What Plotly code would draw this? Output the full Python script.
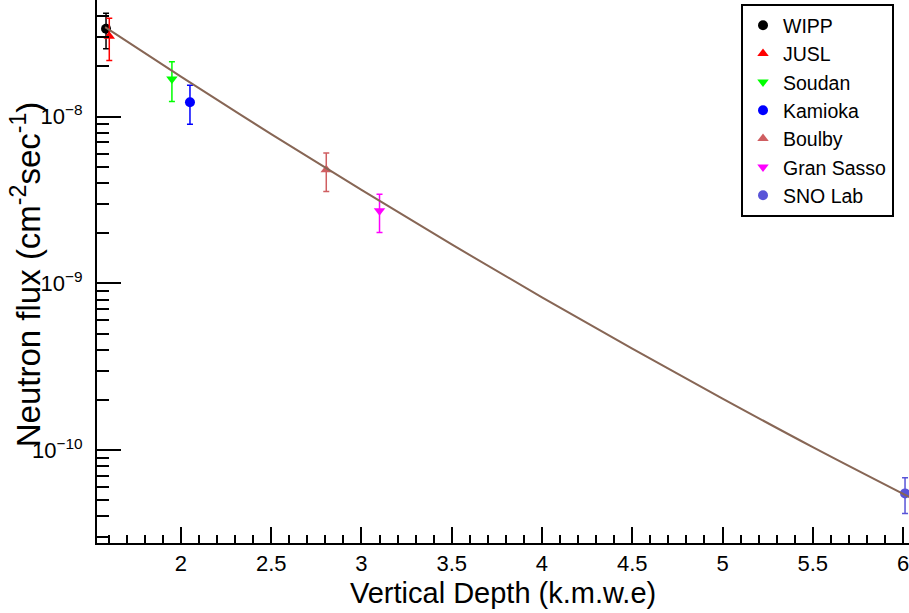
import plotly.graph_objects as go

# ---- data ----
labs = ["WIPP", "JUSL", "Soudan", "Kamioka", "Boulby", "Gran Sasso", "SNO Lab"]
depth = [1.585, 1.603, 1.95, 2.05, 2.805, 3.10, 6.011]          # k.m.w.e
flux = [3.36e-8, 3.03e-8, 1.68e-8, 1.22e-8, 4.8e-9, 2.72e-9, 5.5e-11]
flux_err = [0.81e-8, 0.86e-8, 0.45e-8, 0.32e-8, 1.25e-9, 0.70e-9, 1.33e-11]
colors = ["#000000", "#ff0000", "#00ff00", "#0000ff", "#cf5e61", "#ff00ff", "#5954d8"]
symbols = ["circle", "triangle-up", "triangle-down", "circle", "triangle-up", "triangle-down", "circle"]

# fitted curve
fit_x = [1.58, 2.0, 2.5, 3.0, 3.5, 4.0, 4.5, 5.0, 5.5, 6.05]
fit_y = [3.44e-8, 1.738e-8, 7.85e-9, 3.63e-9, 1.71e-9, 8.24e-10, 4.055e-10, 2.037e-10, 1.042e-10, 5.13e-11]

y_major = [1e-10, 1e-9, 1e-8]
y_major_text = ["10<sup>−10</sup>", "10<sup>−9</sup>", "10<sup>−8</sup>"]

FONT = "Liberation Sans, Arial, sans-serif"

fig = go.Figure()
for i in range(len(labs)):
    fig.add_trace(go.Scatter(
        x=[depth[i]], y=[flux[i]], mode="markers", name=labs[i],
        marker=dict(color=colors[i], symbol=symbols[i], size=10, line=dict(width=0)),
        error_y=dict(type="data", array=[flux_err[i]], visible=True,
                     color=colors[i], thickness=1.5, width=3),
    ))

fig.add_trace(go.Scatter(
    x=fit_x, y=fit_y, mode="lines", showlegend=False,
    line=dict(color="#876655", width=2, shape="spline"), hoverinfo="skip",
))

y_minor = []
for e in range(-11, -7):
    for m in range(2, 10):
        y_minor.append(m * 10.0 ** e)

fig.update_layout(
    width=909, height=613,
    margin=dict(l=97, r=0, t=0, b=70),
    paper_bgcolor="white", plot_bgcolor="white",
    font=dict(family=FONT, color="black"),
    showlegend=True,
    legend=dict(
        x=(741 - 97) / 812, xanchor="left", y=0.9926, yanchor="top",
        bordercolor="black", borderwidth=2, bgcolor="white",
        font=dict(size=19.5, family=FONT), tracegroupgap=0,
        entrywidth=115,
    ),
    xaxis=dict(
        range=[1.535, 6.033], showgrid=False, zeroline=False,
        showline=True, linecolor="black", linewidth=2, mirror=False,
        ticks="inside", ticklen=16, tickwidth=1.5, tickcolor="black",
        tick0=0, dtick=0.5, tickfont=dict(size=22, family=FONT),
        ticklabelstandoff=0, ticklabeloverflow="allow",
        minor=dict(ticks="inside", ticklen=8, tickwidth=1.5, tickcolor="black",
                   dtick=0.1, showgrid=False),
    ),
    yaxis=dict(
        type="log", range=[-10.557, -7.301], showgrid=False, zeroline=False,
        showline=True, linecolor="black", linewidth=2, mirror=False,
        ticks="inside", ticklen=24, tickwidth=1.5, tickcolor="black",
        tickvals=y_major, ticktext=y_major_text, tickfont=dict(size=22, family=FONT),
        ticklabelstandoff=8,
        minor=dict(ticks="inside", ticklen=12, tickwidth=1.5, tickcolor="black",
                   tickvals=y_minor, showgrid=False),
    ),
    annotations=[
        dict(text="Vertical Depth (k.m.w.e)", xref="paper", yref="paper",
             x=0.5, y=-0.092, xanchor="center", yanchor="middle", showarrow=False,
             font=dict(size=29, family=FONT)),
        dict(text="Neutron flux (cm<sup>-2</sup>sec<sup>-1</sup>)", xref="paper", yref="paper",
             x=-(97 - 26) / 812, y=0.495, xanchor="center", yanchor="middle", showarrow=False,
             textangle=-90, font=dict(size=33, family=FONT)),
    ],
)

fig.write_html(
    "out.html",
    config={"displayModeBar": False},
    post_script="document.body.style.margin='0';document.body.style.overflow='hidden';",
)
